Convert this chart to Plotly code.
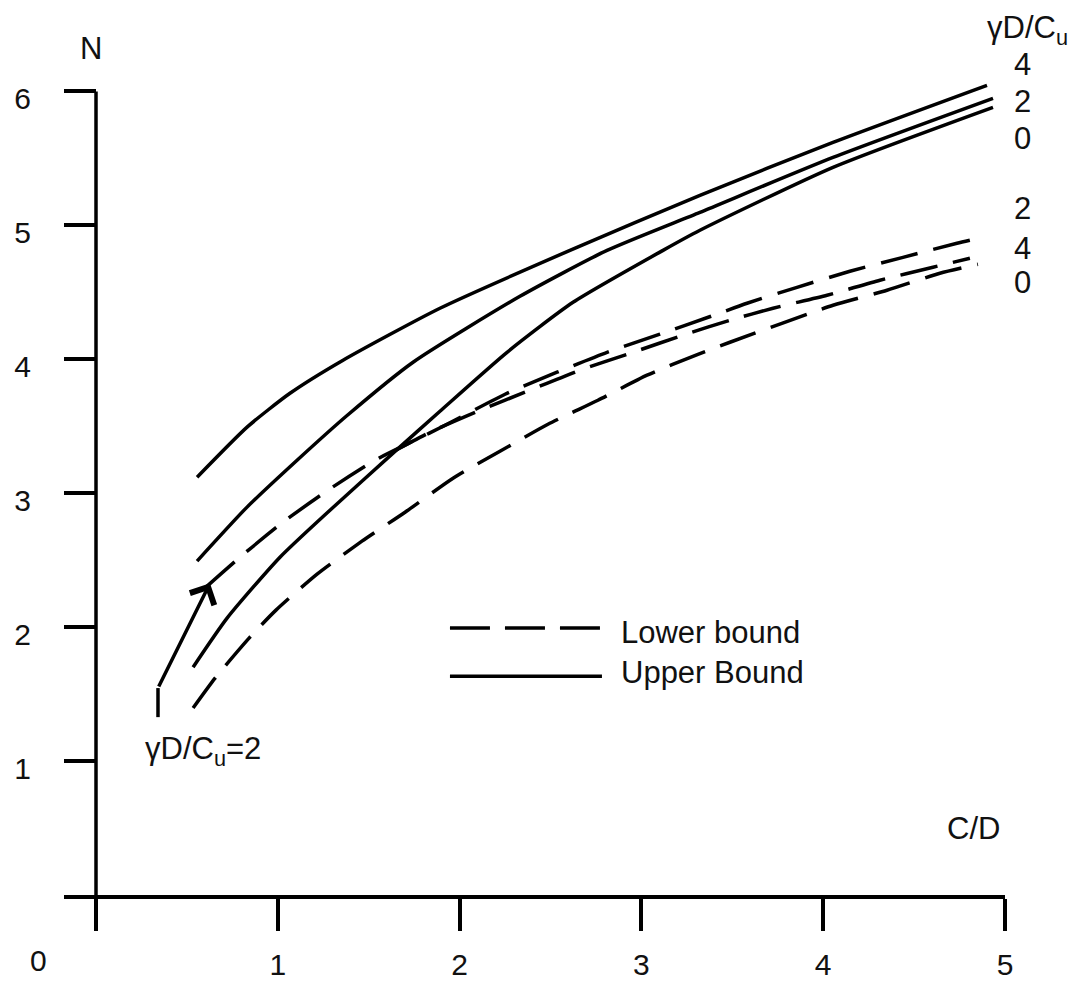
import plotly.graph_objects as go

# ---- data ----
# Upper bound (solid) curves, gammaD/Cu = 4, 2, 0
u4_x = [0.556, 0.831, 1.067, 1.359, 1.892, 2.607, 3.322, 4.054, 4.901]
u4_y = [3.119, 3.493, 3.746, 3.993, 4.381, 4.813, 5.224, 5.619, 6.045]

u2_x = [0.556, 0.831, 1.106, 1.381, 1.744, 2.332, 2.811, 3.322, 4.054, 4.934]
u2_y = [2.493, 2.896, 3.246, 3.580, 3.978, 4.470, 4.813, 5.097, 5.507, 5.948]

u0_x = [0.534, 0.721, 1.012, 1.287, 1.634, 1.892, 2.261, 2.624, 3.119, 3.322, 4.054, 4.934]
u0_y = [1.701, 2.067, 2.522, 2.873, 3.299, 3.612, 4.052, 4.425, 4.813, 4.963, 5.433, 5.881]

# Lower bound (dashed) curves, gammaD/Cu = 2, 4, 0
l2_x = [0.605, 0.792, 1.029, 1.276, 1.535, 1.744, 1.920, 2.250, 2.536, 2.811, 3.102,
        3.383, 3.581, 3.856, 4.147, 4.439, 4.736, 4.879]
l2_y = [2.299, 2.522, 2.784, 3.022, 3.246, 3.388, 3.507, 3.739, 3.903, 4.052, 4.187,
        4.321, 4.418, 4.537, 4.657, 4.761, 4.866, 4.910]

l4_x = [1.628, 1.837, 2.101, 2.387, 2.662, 2.954, 3.245, 3.487, 3.724, 4.021, 4.312, 4.604, 4.807]
l4_y = [3.306, 3.455, 3.612, 3.769, 3.918, 4.052, 4.187, 4.291, 4.381, 4.478, 4.590, 4.687, 4.754]

l0_x = [0.534, 0.655, 0.847, 0.990, 1.216, 1.463, 1.700, 1.964, 2.222, 2.486, 2.761,
        3.031, 3.311, 3.487, 4.054, 4.351, 4.642, 4.851]
l0_y = [1.396, 1.619, 1.925, 2.127, 2.396, 2.642, 2.858, 3.112, 3.313, 3.515, 3.694,
        3.881, 4.037, 4.127, 4.403, 4.515, 4.642, 4.709]

x_ticks = [0, 1, 2, 3, 4, 5]
x_tick_text = ["", "1", "2", "3", "4", "5"]
y_ticks = [1, 2, 3, 4, 5, 6]
y_tick_text = ["1", "2", "3", "4", "5", "6"]

upper_end_labels = ["4", "2", "0"]
upper_end_label_y = [1.0221, 0.9754, 0.9311]   # paper coords
lower_end_labels = ["2", "4", "0"]
lower_end_label_y = [0.8450, 0.7958, 0.7528]   # paper coords

# ---- styling ----
FONT = "Liberation Sans, Arial, sans-serif"
INK = "#111111"
LW = 3.5
DASH = "38px,16px"
SMOOTH = 0.6

fig = go.Figure()

for xs, ys in [(u4_x, u4_y), (u2_x, u2_y), (u0_x, u0_y)]:
    fig.add_trace(go.Scatter(x=xs, y=ys, mode="lines",
                             line=dict(color="black", width=LW, shape="spline", smoothing=SMOOTH),
                             showlegend=False, hoverinfo="skip"))
for xs, ys in [(l2_x, l2_y), (l4_x, l4_y), (l0_x, l0_y)]:
    fig.add_trace(go.Scatter(x=xs, y=ys, mode="lines",
                             line=dict(color="black", width=LW, dash=DASH, shape="spline", smoothing=SMOOTH),
                             showlegend=False, hoverinfo="skip"))

shapes = []
# y-axis line (ends at tick 6)
shapes.append(dict(type="line", xref="x", yref="y", x0=0, x1=0, y0=0, y1=6,
                   line=dict(color="black", width=LW)))
# legend samples
shapes.append(dict(type="line", xref="x", yref="y", x0=1.947, x1=2.772, y0=1.993, y1=1.993,
                   line=dict(color="black", width=LW, dash="40px,15px")))
shapes.append(dict(type="line", xref="x", yref="y", x0=1.947, x1=2.783, y0=1.634, y1=1.634,
                   line=dict(color="black", width=LW)))
# vertical stem of the pointer arrow
shapes.append(dict(type="line", xref="x", yref="y", x0=0.341, x1=0.341, y0=1.328, y1=1.545,
                   line=dict(color="black", width=LW)))

ann = []
tf = dict(family=FONT, size=31, color=INK)
tick_font = dict(family=FONT, size=30, color=INK)
C = dict(xanchor="center", yanchor="middle", showarrow=False)
ann.append(dict(x=-0.0276, y=-0.080, xref="paper", yref="paper", text="0", font=tick_font, **C))
ann.append(dict(x=0.0287, y=1.0406, xref="paper", yref="paper", text="N", font=tf, **C))
ann.append(dict(x=4.824, y=0.493, xref="x", yref="y", text="C/D", font=tf, **C))
ann.append(dict(x=1.0234, y=1.064, xref="paper", yref="paper", text="γD/C<sub>u</sub>", font=tf, **C))
for t, yy in zip(upper_end_labels, upper_end_label_y):
    ann.append(dict(x=1.0191, y=yy, xref="paper", yref="paper", text=t, font=tf, **C))
for t, yy in zip(lower_end_labels, lower_end_label_y):
    ann.append(dict(x=1.0191, y=yy, xref="paper", yref="paper", text=t, font=tf, **C))
ann.append(dict(x=0.589, y=1.075, xref="x", yref="y", text="γD/C<sub>u</sub>=2", font=tf, **C))
ann.append(dict(x=2.877, y=1.963, xref="x", yref="y", text="Lower bound", showarrow=False,
                xanchor="left", yanchor="middle", font=tf))
ann.append(dict(x=2.877, y=1.664, xref="x", yref="y", text="Upper Bound", showarrow=False,
                xanchor="left", yanchor="middle", font=tf))
# pointer arrow
ann.append(dict(x=0.627, y=2.328, xref="x", yref="y", ax=0.341, ay=1.545, axref="x", ayref="y",
                text="", showarrow=True, arrowhead=4, arrowsize=1.5, arrowwidth=3.5, arrowcolor="black"))

# the page body adds an 8px offset, so margins are trimmed by 8px on the top/left
fig.update_layout(
    width=1076, height=987,
    margin=dict(l=56, r=79, t=74, b=100, autoexpand=False),
    paper_bgcolor="white", plot_bgcolor="white",
    shapes=shapes, annotations=ann, showlegend=False,
    xaxis=dict(range=[-0.176, 5.0], showgrid=False, zeroline=False, automargin=False,
               showline=True, linecolor="black", linewidth=LW,
               ticks="outside", ticklen=32, tickwidth=LW, tickcolor="black",
               tickvals=x_ticks, ticktext=x_tick_text, ticklabelstandoff=8,
               tickfont=tick_font),
    yaxis=dict(range=[0, 6.07], showgrid=False, zeroline=False, showline=False, automargin=False,
               anchor="free", position=0.034,
               ticks="outside", ticklen=32, tickwidth=LW, tickcolor="black",
               tickvals=y_ticks, ticktext=y_tick_text, ticklabelstandoff=27,
               ticklabelshift=7, tickfont=tick_font),
)

fig.write_html("out.html")
